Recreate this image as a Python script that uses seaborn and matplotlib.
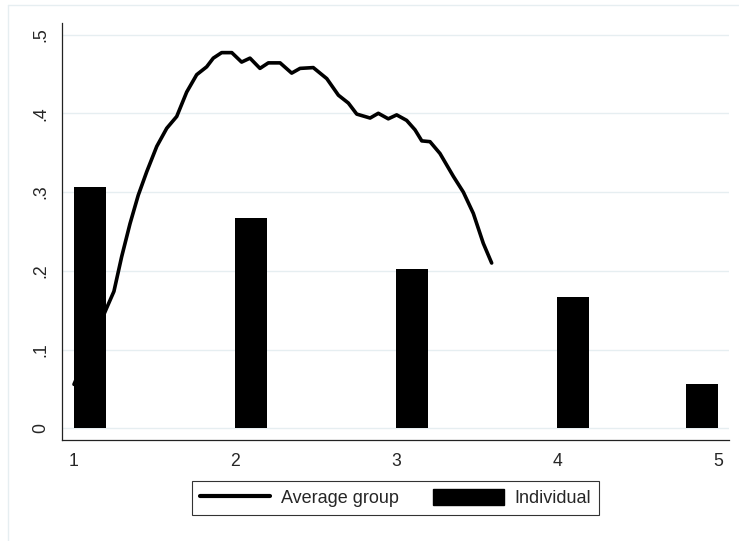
import matplotlib
matplotlib.use("Agg")
import matplotlib.pyplot as plt
from matplotlib.lines import Line2D
from matplotlib.patches import Patch
import seaborn as sns
import pandas as pd

# Individual shares (bars), left edges at each category
bar_x = [1, 2, 3, 4, 4.8]
bar_heights = [0.307, 0.267, 0.202, 0.167, 0.057]

# Average group curve
line_x = [1.0, 1.203, 1.248, 1.296, 1.348, 1.399, 1.452, 1.514, 1.576, 1.638,
          1.700, 1.762, 1.824, 1.865, 1.917, 1.980, 2.041, 2.093, 2.155, 2.207,
          2.280, 2.352, 2.404, 2.486, 2.570, 2.642, 2.704, 2.756, 2.839, 2.890,
          2.952, 3.004, 3.066, 3.118, 3.160, 3.211, 3.273, 3.356, 3.418, 3.480,
          3.542, 3.594]
line_y = [0.056, 0.153, 0.174, 0.218, 0.260, 0.296, 0.326, 0.358, 0.381, 0.396,
          0.427, 0.449, 0.459, 0.470, 0.477, 0.477, 0.465, 0.470, 0.457, 0.464,
          0.464, 0.451, 0.457, 0.458, 0.444, 0.423, 0.413, 0.399, 0.394, 0.400,
          0.393, 0.398, 0.391, 0.379, 0.365, 0.364, 0.349, 0.320, 0.300, 0.273,
          0.235, 0.210]

x_ticks = [1, 2, 3, 4, 5]
y_ticks = [0, 0.1, 0.2, 0.3, 0.4, 0.5]
y_ticklabels = ["0", ".1", ".2", ".3", ".4", ".5"]

sns.set_style("white")
plt.rcParams["font.family"] = ["Liberation Sans", "DejaVu Sans"]

W, H = 739, 541
fig = plt.figure(figsize=(W / 100, H / 100), dpi=100)
ax = fig.add_axes([62 / W, (H - 440) / H, (729 - 62) / W, (440 - 23) / H])

curve = pd.DataFrame({"x": line_x, "y": line_y})
sns.lineplot(data=curve, x="x", y="y", color="black", linewidth=2.6,
             sort=False, ax=ax, zorder=2)
ax.bar(bar_x, bar_heights, width=0.2, align="edge", color="black",
       linewidth=0, zorder=3)

ax.set_xlim(0.9255, 5.068)
ax.set_ylim(-0.0146, 0.5146)
ax.set_xticks(x_ticks)
ax.set_xticklabels([str(t) for t in x_ticks], fontsize=12.7)
ax.set_yticks(y_ticks)
ax.set_yticklabels(y_ticklabels, fontsize=12.7, rotation=90, va="center")
ax.tick_params(direction="out", length=5, width=0.8, color="#333333", pad=4)
ax.yaxis.grid(True, color="#e6eef1", linewidth=1.0)
ax.set_axisbelow(True)
ax.set_xlabel("")
ax.set_ylabel("")
for side in ["top", "right"]:
    ax.spines[side].set_visible(False)
for side in ["left", "bottom"]:
    ax.spines[side].set_color("#222222")
    ax.spines[side].set_linewidth(0.9)

# outer graph region border (light)
fig.add_artist(Line2D([8 / W, 8 / W], [0, 1 - 4.5 / H], transform=fig.transFigure,
                      color="#e6eef1", linewidth=1.0))
fig.add_artist(Line2D([8 / W, 1], [1 - 4.5 / H, 1 - 4.5 / H], transform=fig.transFigure,
                      color="#e6eef1", linewidth=1.0))

handles = [Line2D([0], [0], color="black", linewidth=3),
           Patch(facecolor="black", edgecolor="black")]
leg = fig.legend(handles, ["Average group", "Individual"], loc="center",
                 bbox_to_anchor=(395.5 / W, (H - 498) / H), ncol=2,
                 fontsize=13, frameon=True, fancybox=False, handlelength=3.9,
                 handleheight=1.05, handletextpad=0.6, columnspacing=1.9,
                 borderpad=0.45, borderaxespad=0)
leg.get_frame().set_edgecolor("black")
leg.get_frame().set_linewidth(0.8)

fig.savefig("out.png", dpi=100)
